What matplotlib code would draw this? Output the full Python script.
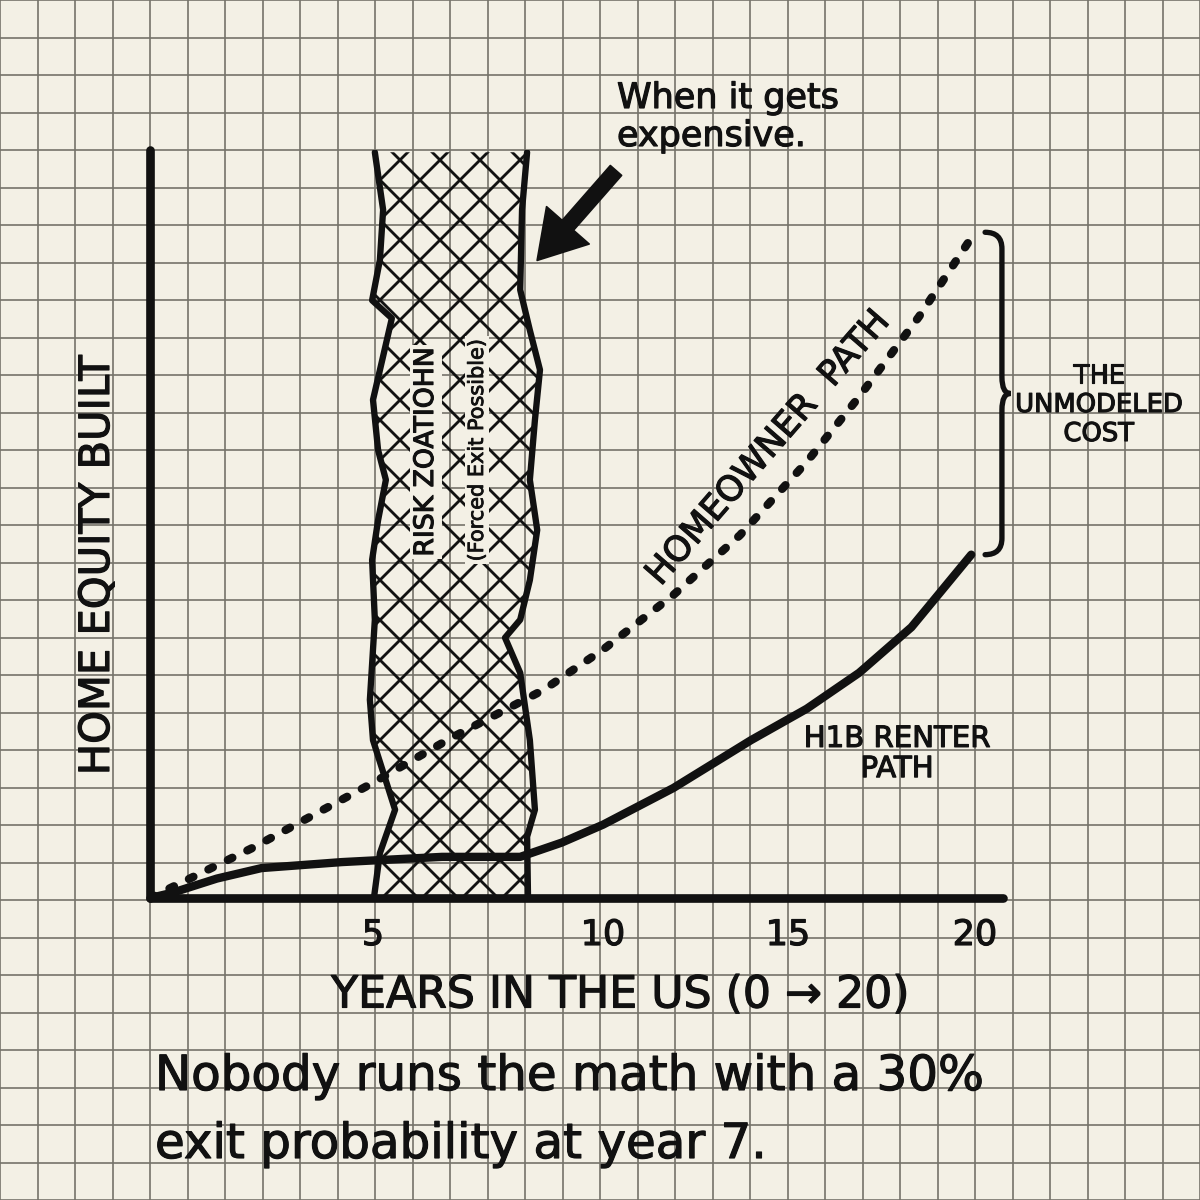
import numpy as np
import matplotlib
matplotlib.use('Agg')
import matplotlib.pyplot as plt
import matplotlib.patheffects as pe
from matplotlib.path import Path
from matplotlib.patches import PathPatch, Polygon

# ---- data (equity: 0 = origin, 100 = top of the y axis) ----
home_years = [0, 2.3, 5, 6.7, 8.7, 10, 11.9, 13.7, 15.5, 16.9, 18.5, 20]
home_equity = [0, 6.7, 15.4, 21.4, 27.8, 33.2, 40.5, 48.5, 58.3, 67.0, 77.7, 89.0]

renter_years = [0, 0.5, 1.5, 2.5, 4.3, 6.5, 8.2, 9.1, 10, 11.9, 14.0, 15.5, 16.9, 18.3, 19.9]
renter_equity = [0, 0.7, 2.6, 4.0, 4.8, 5.5, 5.5, 7.4, 9.8, 14.7, 21.1, 25.3, 30.1, 36.2, 45.9]

# jagged outline of the risk zone, top to bottom
risk_left_years = [5.04, 5.22, 5.15, 4.98, 5.41, 5.20, 5.0, 5.11, 5.28, 5.11, 4.98, 5.04, 4.93, 5.0, 5.48, 5.15, 5.02]
risk_left_equity = [99.7, 92.0, 85.3, 79.9, 77.5, 71.9, 66.6, 59.9, 55.9, 50.5, 45.2, 37.2, 26.5, 21.1, 11.8, 6.0, 0]
risk_right_years = [8.35, 8.24, 8.2, 8.41, 8.63, 8.52, 8.41, 8.57, 8.41, 8.2, 7.87, 8.2, 8.41, 8.52, 8.35, 8.37]
risk_right_equity = [99.7, 92.0, 81.3, 75.9, 70.6, 63.9, 55.9, 49.2, 42.5, 37.2, 34.8, 30.1, 21.1, 11.8, 8.2, 0]

tick_years = [5, 10, 15, 20]
tick_labels = ['5', '10', '15', '20']

# the hand drawn axis does not space its ticks evenly; map years onto the drawn spacing
knot_years = np.array([-5, 0, 5, 10, 15, 20, 25])
knot_px = np.array([-73, 150, 373, 603, 788, 975, 1162])

PAPER = '#f3f0e5'
GRID = '#75736a'
INK = '#111111'

plt.rcParams['font.family'] = ['DejaVu Sans']
plt.rcParams['hatch.linewidth'] = 1.7
plt.rcParams['hatch.color'] = INK

fig = plt.figure(figsize=(10, 10), dpi=120)
fig.patch.set_facecolor(PAPER)


def fx(px):
    return px / 1200.0


def fy(py):
    return 1 - py / 1200.0


def to_px(v):
    return np.interp(v, knot_years, knot_px)


def from_px(v):
    return np.interp(v, knot_px, knot_years)


# graph paper background
bg = fig.add_axes([0, 0, 1, 1], zorder=-5)
bg.set_xlim(0, 1200)
bg.set_ylim(1200, 0)
bg.set_facecolor(PAPER)
for g in np.arange(0, 1201, 37.5):
    bg.axvline(g, color=GRID, lw=1.0)
    bg.axhline(g, color=GRID, lw=1.0)
bg.axis('off')

# main chart
ax = fig.add_axes([fx(150), fy(898), fx(1003) - fx(150), fy(150) - fy(898)])
ax.set_facecolor('none')
ax.set_xscale('function', functions=(to_px, from_px))
ax.set_xlim(0, float(from_px(1003)))
ax.set_ylim(0, 100)

for side in ['top', 'right']:
    ax.spines[side].set_visible(False)
for side in ['left', 'bottom']:
    ax.spines[side].set_linewidth(5.2)
    ax.spines[side].set_color(INK)
    ax.spines[side].set_capstyle('round')

thick = [pe.withStroke(linewidth=0.7, foreground=INK)]

ax.set_xticks(tick_years)
ax.set_xticklabels(tick_labels)
ax.tick_params(axis='x', length=0, pad=12, labelsize=21, colors=INK)
ax.set_yticks([])
for lab in ax.get_xticklabels():
    lab.set_path_effects(thick)

ax.set_xlabel('YEARS IN THE US (0 → 20)', fontsize=26.5, color=INK, va='center', path_effects=thick)
ax.xaxis.set_label_coords((620 - 150) / 853.0, (898 - 995) / 748.0)
ax.set_ylabel('HOME EQUITY BUILT', fontsize=25, color=INK, va='center', ha='center', path_effects=thick)
ax.yaxis.set_label_coords((97 - 150) / 853.0, (898 - 565) / 748.0)

# risk zone
zone = Polygon(list(zip(risk_left_years, risk_left_equity)) +
               list(zip(risk_right_years[::-1], risk_right_equity[::-1])),
               closed=True, facecolor='none', edgecolor=INK, linewidth=0, hatch='x', zorder=1)
ax.add_patch(zone)
ax.plot(risk_left_years, risk_left_equity, color=INK, lw=3.8, solid_capstyle='round', zorder=3)
ax.plot(risk_right_years, risk_right_equity, color=INK, lw=3.8, solid_capstyle='round', zorder=3)

# the two paths
ax.plot(home_years, home_equity, color=INK, lw=5, linestyle=(0, (0.6, 2.0)),
        dash_capstyle='round', zorder=4)
ax.plot(renter_years, renter_equity, color=INK, lw=5, solid_capstyle='round',
        solid_joinstyle='round', zorder=4)

# arrow pointing at the risk zone
ax.annotate('', xy=(8.52, 84.9), xytext=(10.41, 97.6),
            arrowprops=dict(arrowstyle='simple,head_length=1.4,head_width=1.7,tail_width=0.45',
                            mutation_scale=20, fc=INK, ec=INK, lw=1),
            annotation_clip=False, zorder=5)

# brace between the two end points
top, bot = home_equity[-1], renter_equity[-1]
mid = (top + bot) / 2
x0, x1, x2, r = 20.27, 20.72, 20.95, 2.2
verts = [(x0, top), (x1, top), (x1, top - r), (x1, mid + r), (x1, mid), (x2, mid),
         (x1, mid), (x1, mid - r), (x1, bot + r), (x1, bot), (x0, bot)]
codes = [Path.MOVETO, Path.CURVE3, Path.CURVE3, Path.LINETO, Path.CURVE3, Path.CURVE3,
         Path.CURVE3, Path.CURVE3, Path.LINETO, Path.CURVE3, Path.CURVE3]
brace = PathPatch(Path(verts, codes), fill=False, ec=INK, lw=3.2, capstyle='round', clip_on=False)
ax.add_patch(brace)

# ---- annotations ----
fig.text(fx(768), fy(448), 'HOMEOWNER  PATH', fontsize=21, rotation=49, rotation_mode='anchor',
         ha='center', va='center', color=INK, path_effects=thick)
fig.text(fx(897), fy(754), 'H1B RENTER\nPATH', fontsize=17.5, ha='center', va='center',
         linespacing=1.1, color=INK, path_effects=thick)
fig.text(fx(1099), fy(405), 'THE\nUNMODELED\nCOST', fontsize=15.5, ha='center', va='center',
         linespacing=1.15, color=INK, path_effects=thick)
fig.text(fx(617), fy(108), 'When it gets', fontsize=21, ha='left', va='baseline', color=INK,
         path_effects=thick)
fig.text(fx(617), fy(146), 'expensive.', fontsize=21, ha='left', va='baseline', color=INK,
         path_effects=thick)

box = dict(boxstyle='square,pad=0.1', fc=PAPER, ec='none')
fig.text(fx(426), fy(452), 'RISK ZOATIOHN', fontsize=16, rotation=90, ha='center', va='center',
         color=INK, path_effects=thick, bbox=box, zorder=6)
fig.text(fx(477), fy(450), '(Forced Exit Possible)', fontsize=12.5, rotation=90, ha='center',
         va='center', color=INK, path_effects=[pe.withStroke(linewidth=0.5, foreground=INK)],
         bbox=box, zorder=6)

fig.text(fx(155), fy(1090), 'Nobody runs the math with a 30%', fontsize=29, ha='left',
         va='baseline', color=INK, path_effects=thick)
fig.text(fx(155), fy(1158), 'exit probability at year 7.', fontsize=29, ha='left',
         va='baseline', color=INK, path_effects=thick)

fig.savefig('out.png', dpi=120, facecolor=PAPER)
